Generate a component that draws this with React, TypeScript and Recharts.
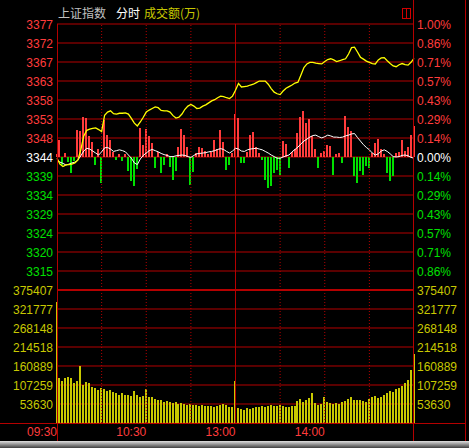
import React from 'react';
import { ComposedChart, Line, Bar, Cell, XAxis, YAxis, CartesianGrid, ReferenceLine } from 'recharts';

const FONT = '"Liberation Sans", Arial, sans-serif';
const CJK = '"Noto Sans CJK SC", sans-serif';
const RED = '#ff3c3c';
const GREEN = '#00e000';
const GRID = '#b40000';
const VOL = '#c8c800';

// previous close and one grid step (1/7 of 1%)
const prevClose = 3344.0;
const step = (prevClose * 0.01) / 7;

const timeTicks = [0, 30, 60, 90];
const timeLabels = ['09:30', '10:30', '13:00', '14:00'];
const halfHours = [15, 30, 45, 75, 90, 105];

const priceLabels = ['3377', '3372', '3367', '3363', '3358', '3353', '3348', '3344', '3339', '3334', '3329', '3324', '3320', '3315'];
const pctLabels = ['1.00%', '0.86%', '0.71%', '0.57%', '0.43%', '0.29%', '0.14%', '0.00%', '0.14%', '0.29%', '0.43%', '0.57%', '0.71%', '0.86%'];
const volTicks = [375407, 321777, 268148, 214518, 160889, 107259, 53630];
const volLabels = ['375407', '321777', '268148', '214518', '160889', '107259', '53630'];

// one point every 2 minutes, 09:30 .. 11:30 | 13:00 .. 15:00
const price = [
  3343.7, 3342.2, 3341.6, 3342.0, 3342.1, 3342.2, 3342.5, 3343.2, 3345.8, 3349.3,
  3350.7, 3351.0, 3351.2, 3351.3, 3350.9, 3350.4, 3354.5, 3355.3, 3355.6, 3354.9,
  3354.8, 3355.0, 3355.0, 3355.1, 3354.8, 3353.7, 3352.5, 3351.8, 3352.8, 3354.0,
  3355.3, 3355.8, 3356.2, 3356.6, 3356.4, 3355.7, 3355.6, 3355.6, 3355.3, 3354.4,
  3353.8, 3354.0, 3354.8, 3356.0, 3356.8, 3357.2, 3356.8, 3356.2, 3356.3, 3356.8,
  3357.1, 3357.6, 3358.1, 3358.4, 3358.9, 3359.3, 3359.2, 3358.9, 3358.7, 3359.3,
  3360.8, 3362.5, 3361.6, 3361.7, 3361.8, 3362.1, 3362.3, 3362.7, 3363.1, 3363.1,
  3363.1, 3362.3, 3361.2, 3360.3, 3359.9, 3359.7, 3360.6, 3361.3, 3361.7, 3362.1,
  3362.6, 3362.8, 3364.6, 3366.5, 3367.4, 3367.8, 3367.8, 3367.6, 3367.5, 3367.4,
  3368.0, 3368.5, 3368.7, 3368.4, 3368.0, 3368.2, 3368.5, 3368.7, 3369.9, 3371.5,
  3371.6, 3370.4, 3369.1, 3368.6, 3368.1, 3367.8, 3367.5, 3367.4, 3368.4, 3368.9,
  3369.0, 3368.2, 3367.5, 3366.9, 3366.7, 3367.2, 3367.5, 3367.2, 3367.1, 3367.8,
  3368.8,
];

const leading = [
  3343.2, 3342.7, 3342.4, 3342.0, 3342.2, 3342.5, 3342.7, 3343.2, 3344.3, 3345.5,
  3346.2, 3346.0, 3345.5, 3345.0, 3344.5, 3345.3, 3346.3, 3346.4, 3346.0, 3345.4,
  3345.6, 3345.8, 3345.6, 3345.3, 3344.5, 3343.7, 3342.5, 3342.1, 3343.5, 3344.4,
  3345.0, 3345.6, 3345.9, 3345.6, 3345.3, 3344.9, 3344.6, 3344.4, 3344.1, 3344.1,
  3344.3, 3344.4, 3344.5, 3344.4, 3344.1, 3343.9, 3344.4, 3344.8, 3344.9, 3345.0,
  3345.1, 3345.3, 3345.4, 3345.6, 3345.9, 3346.1, 3345.9, 3345.4, 3345.0, 3345.5,
  3346.2, 3346.0, 3345.5, 3345.4, 3345.8, 3346.0, 3346.1, 3346.2, 3346.0, 3345.8,
  3345.4, 3345.0, 3344.5, 3344.1, 3343.7, 3343.7, 3344.0, 3344.3, 3344.5, 3345.3,
  3345.9, 3346.5, 3347.3, 3348.0, 3348.5, 3349.0, 3349.4, 3349.5, 3349.1, 3348.8,
  3349.1, 3349.5, 3349.3, 3349.0, 3349.0, 3348.9, 3349.0, 3349.3, 3349.5, 3349.8,
  3349.9, 3348.9, 3348.0, 3347.1, 3346.4, 3345.8, 3345.0, 3344.5, 3344.8, 3345.5,
  3345.8, 3345.4, 3344.8, 3344.1, 3344.0, 3344.1, 3344.4, 3344.5, 3344.3, 3343.9,
  3343.7,
];

// buy/sell strength bars around the 0% line
const strength = [
  3, 17, -8, 4, -5, -16, -4, 27, 26, 40,
  39, 21, 15, -8, 8, -26, 37, 22, 17, 5,
  -3, 3, -4, 3, -14, -24, -29, -12, 29, 12,
  28, 21, 14, -11, 5, -16, -8, 3, -10, -23,
  -14, 10, 28, 22, 10, -28, -15, 4, 10, 9,
  6, 3, 5, 17, 8, 27, 15, -13, -8, 4,
  43, 39, -6, -6, 5, 22, 25, 10, 4, -3,
  -23, -31, -29, -16, -13, -18, 16, 13, -11, 5,
  8, 24, 40, 46, 34, 38, 21, 8, -11, 4,
  6, 12, 11, -18, 3, 4, -6, 41, 30, 26,
  -19, -26, -14, -18, -9, -11, 4, 14, 18, 8,
  3, -16, -24, -19, 4, 5, 17, 6, 10, 22,
  31,
];

const volume = [
  342000, 126000, 118000, 128000, 131000, 126000, 113000, 118000, 161000, 107000,
  117000, 112000, 103000, 98000, 93000, 100000, 95000, 90000, 92000, 87000,
  84000, 80000, 86000, 78000, 80000, 76000, 90000, 78000, 72000, 75000,
  96000, 73000, 72000, 68000, 65000, 66000, 60000, 62000, 58000, 57000,
  60000, 55000, 56000, 54000, 52000, 55000, 50000, 52000, 48000, 50000,
  47000, 49000, 48000, 46000, 48000, 52000, 55000, 50000, 45000, 46000,
  119000, 42000, 40000, 38000, 41000, 39000, 43000, 44000, 46000, 47000,
  46000, 48000, 50000, 49000, 48000, 50000, 47000, 46000, 45000, 48000,
  47000, 62000, 67000, 60000, 64000, 70000, 85000, 56000, 52000, 54000,
  72000, 60000, 56000, 55000, 57000, 55000, 58000, 62000, 68000, 72000,
  66000, 64000, 65000, 62000, 60000, 68000, 72000, 75000, 70000, 74000,
  80000, 86000, 90000, 88000, 96000, 100000, 104000, 112000, 120000, 150000,
  195000,
];

const data = price.map((p, i) => ({ i, price: p, lead: leading[i], strength: strength[i], vol: volume[i] }));
const priceTicks = Array.from({ length: 15 }, (_, n) => prevClose + (7 - n) * step);

function SideTick(props: any) {
  const { x, y, payload, textAnchor, labels } = props;
  const n = Math.round((prevClose - payload.value) / step) + 7;
  const text = labels[n];
  if (!text) return <g />;
  const fill = n < 7 ? RED : n === 7 ? '#ffffff' : GREEN;
  return (
    <text x={x} y={y} dy={5} textAnchor={textAnchor} fill={fill} fontSize={12} fontFamily={FONT}>
      {text}
    </text>
  );
}

function VolTick(props: any) {
  const { x, y, payload, textAnchor } = props;
  const text = volLabels[volTicks.indexOf(payload.value)];
  if (!text) return <g />;
  return (
    <text x={x} y={y} dy={5} textAnchor={textAnchor} fill={VOL} fontSize={12} fontFamily={FONT}>
      {text}
    </text>
  );
}

function TimeTick(props: any) {
  const { x, y, payload } = props;
  const text = timeLabels[timeTicks.indexOf(payload.value)];
  return (
    <text x={x} y={y} dy={13} textAnchor="end" fill={RED} fontSize={12} fontFamily={FONT}>
      {text}
    </text>
  );
}

const verticals = (
  <>
    {halfHours.map((t) => (
      <ReferenceLine key={t} x={t} stroke={GRID} strokeDasharray="1 2" />
    ))}
    <ReferenceLine x={60} stroke={GRID} />
  </>
);

export default function App() {
  return (
    <div style={{ position: 'relative', width: 469, height: 448, background: '#000', overflow: 'hidden' }}>
      <style>{'body{margin:0;background:#000}'}</style>

      <div style={{ position: 'absolute', top: 5, left: 58, fontFamily: CJK, fontSize: 12, lineHeight: '16px', whiteSpace: 'pre' }}>
        <span style={{ color: '#c0c0c0' }}>上证指数</span>
        <span style={{ color: '#ffffff', marginLeft: 10 }}>分时</span>
        <span style={{ color: VOL, marginLeft: 4 }}>成交额(万)</span>
      </div>

      <div style={{ position: 'absolute', top: 0, left: 0 }}>
        <ComposedChart width={469} height={290} data={data} margin={{ top: 24, right: 0, bottom: 0, left: 0 }}>
          <XAxis dataKey="i" type="number" domain={[0, 120]} hide />
          <YAxis
            domain={[priceTicks[14], priceTicks[0]]}
            ticks={priceTicks}
            interval={0}
            allowDataOverflow
            width={57}
            axisLine={false}
            tickLine={false}
            tickSize={3}
            tickMargin={1}
            tick={(p: any) => <SideTick {...p} labels={priceLabels} />}
          />
          <YAxis
            yAxisId="pct"
            orientation="right"
            domain={[priceTicks[14], priceTicks[0]]}
            ticks={priceTicks}
            interval={0}
            allowDataOverflow
            width={55}
            axisLine={false}
            tickLine={false}
            tickSize={3}
            tickMargin={0}
            tick={(p: any) => <SideTick {...p} labels={pctLabels} />}
          />
          <YAxis yAxisId="flow" domain={[-133, 133]} hide />
          <CartesianGrid vertical={false} stroke={GRID} />
          {verticals}
          <Bar yAxisId="flow" dataKey="strength" barSize={2} isAnimationActive={false}>
            {data.map((d) => (
              <Cell key={d.i} fill={d.strength >= 0 ? RED : GREEN} shapeRendering="crispEdges" />
            ))}
          </Bar>
          <Line dataKey="lead" type="linear" stroke="#ffffff" strokeWidth={1} dot={false} isAnimationActive={false} />
          <Line dataKey="price" type="linear" stroke="#ffff00" strokeWidth={1.3} dot={false} isAnimationActive={false} />
        </ComposedChart>
      </div>

      <div style={{ position: 'absolute', top: 270, left: 0 }}>
        <ComposedChart width={469} height={178} data={data} margin={{ top: 20, right: 0, bottom: 0, left: 0 }}>
          <XAxis
            dataKey="i"
            type="number"
            domain={[0, 120]}
            ticks={timeTicks}
            interval={0}
            height={25}
            axisLine={false}
            tickLine={false}
            tickSize={0}
            tickMargin={0}
            tick={<TimeTick />}
          />
          <YAxis
            domain={[0, 375407]}
            ticks={volTicks}
            interval={0}
            allowDataOverflow
            width={57}
            axisLine={false}
            tickLine={false}
            tickSize={3}
            tickMargin={1}
            tick={<VolTick />}
          />
          <YAxis
            yAxisId="r"
            orientation="right"
            domain={[0, 375407]}
            ticks={volTicks}
            interval={0}
            allowDataOverflow
            width={55}
            axisLine={false}
            tickLine={false}
            tickSize={3}
            tickMargin={0}
            tick={<VolTick />}
          />
          <CartesianGrid vertical={false} stroke={GRID} />
          {verticals}
          <ReferenceLine y={375407} stroke={GRID} strokeWidth={2} />
          <Bar dataKey="vol" fill={VOL} barSize={2} shapeRendering="crispEdges" isAnimationActive={false} />
        </ComposedChart>
      </div>

      <svg width={469} height={448} style={{ position: 'absolute', top: 0, left: 0, pointerEvents: 'none' }}>
        <defs>
          <linearGradient id="strip" x1="0" y1="0" x2="0" y2="1">
            <stop offset="0%" stopColor="#e0e0e0" />
            <stop offset="100%" stopColor="#404040" />
          </linearGradient>
        </defs>
        <line x1={57.5} y1={24} x2={57.5} y2={441} stroke={GRID} />
        <line x1={413.5} y1={0} x2={413.5} y2={441} stroke={GRID} />
        <line x1={465.5} y1={0} x2={465.5} y2={441} stroke={GRID} />
        <line x1={0} y1={423.5} x2={466} y2={423.5} stroke={GRID} />
        <rect x={402.5} y={8.5} width={8} height={10} fill="none" stroke="#d00000" />
        <line x1={406.5} y1={8.5} x2={406.5} y2={18.5} stroke="#d00000" />
        <rect x={0} y={441} width={469} height={7} fill="url(#strip)" />
      </svg>
    </div>
  );
}
